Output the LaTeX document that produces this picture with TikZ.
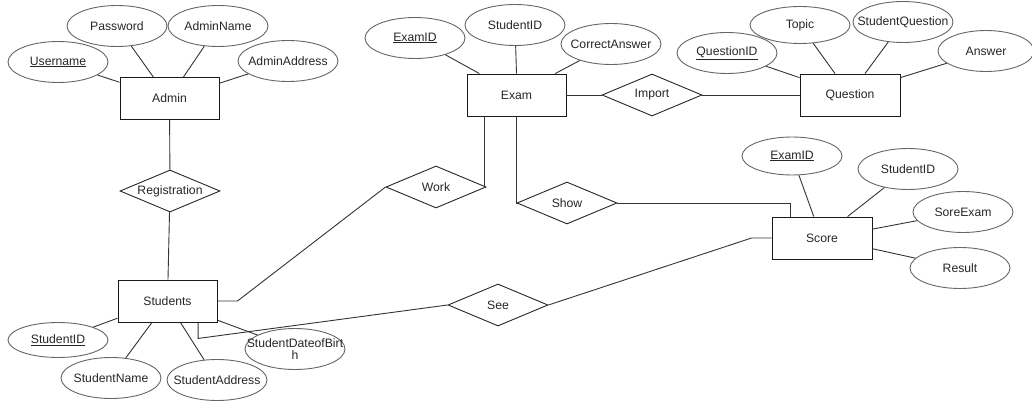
\documentclass[tikz,border=0pt]{standalone}
\usepackage{fontspec}
\setmainfont{Liberation Sans}
\usetikzlibrary{shapes.geometric}
\newcommand\ertext[1]{\makebox[0pt]{#1}}

\begin{document}
\begin{tikzpicture}[
    x=1pt, y=-1pt,
    font=\fontsize{12.2}{14}\selectfont,
    text=black!85,
    entity/.style={
      draw=black!90, line width=0.9pt, rectangle,
      minimum width=99, minimum height=42, inner sep=0
    },
    attr/.style={
      draw=black!60, line width=0.9pt, ellipse,
      minimum width=100, minimum height=41, inner sep=0
    },
    rel/.style={
      draw=black!85, line width=0.9pt, diamond,
      minimum width=100, minimum height=42, inner sep=0
    },
    link/.style={
      draw=black!80, line width=0.9pt
    }
  ]
    \useasboundingbox (0,0) rectangle (1032,403);

    \node[entity] (Admin) at (169.5,98.5) {Admin};
    \node[attr] (Username)     at (58,62)  { \ertext{\underline{Username}} };
    \node[attr] (Password)     at (117,26) { \ertext{Password} };
    \node[attr] (AdminName)    at (218,26) { \ertext{AdminName} };
    \node[attr] (AdminAddress) at (288,61) { \ertext{AdminAddress} };
    \node[rel]  (Registration) at (170,191) { \ertext{Registration} };

    \node[entity] (Students) at (167.5,301) {Students};
    \node[attr,minimum height=35] (StudentID) at (58,340) { \ertext{\underline{StudentID}} };
    \node[attr] (StudentName)    at (111,378) { \ertext{StudentName} };
    \node[attr] (StudentAddress) at (217,380) { \ertext{StudentAddress} };
    \node[attr] (StudentDOB)     at (295,349) { \ertext{\shortstack{StudentDateofBirt\\h}} };

    \node[entity] (Exam) at (516.5,95) {Exam};
    \node[attr] (ExExamID)      at (415,38) { \ertext{\underline{ExamID}} };
    \node[attr] (ExStudentID)   at (515,25) { \ertext{StudentID} };
    \node[attr] (CorrectAnswer) at (611,44) { \ertext{CorrectAnswer} };
    \node[rel]  (Import) at (652,95)  { \ertext{Import} };
    \node[rel]  (Work)   at (436,187) { \ertext{Work} };
    \node[rel]  (Show)   at (567,203) { \ertext{Show} };
    \node[rel]  (See)    at (498,305) { \ertext{See} };

    \node[entity,minimum width=100] (Question) at (850,95) {Question};
    \node[attr] (QuestionID)      at (727,53) { \ertext{\underline{QuestionID}} };
    \node[attr,minimum height=37] (Topic) at (800,25) { \ertext{Topic} };
    \node[attr] (StudentQuestion) at (903,22) { \ertext{StudentQuestion} };
    \node[attr,minimum width=96] (Answer) at (986,51) { \ertext{Answer} };

    \node[entity,minimum width=100] (Score) at (822,238) {Score};
    \node[attr,minimum height=38] (ScExamID) at (792,156) { \ertext{\underline{ExamID}} };
    \node[attr] (ScStudentID) at (908,169) { \ertext{StudentID} };
    \node[attr] (SoreExam)    at (963,212) { \ertext{SoreExam} };
    \node[attr] (Result)      at (960,268) { \ertext{Result} };

    \draw[link] (Username) -- (Admin.162);
    \draw[link] (Password) -- (Admin.127);
    \draw[link] (AdminName) -- (Admin.57);
    \draw[link] (AdminAddress) -- (Admin.17);
    \draw[link] (Admin) -- (Registration);
    \draw[link] (Registration) -- (Students);

    \draw[link] (StudentID) -- (Students.199);
    \draw[link] (StudentName) -- (Students.234);
    \draw[link] (StudentAddress) -- (Students.-59);
    \draw[link] (StudentDOB) -- (Students.-21);
    \draw[link] (Students.east) -- ++(20,0) -- (Work.west);
    \draw[link] (Students.-35) -- ++(0,16) -- (See.west);

    \draw[link] (ExExamID) -- (Exam.150);
    \draw[link] (ExStudentID) -- (Exam.north);
    \draw[link] (CorrectAnswer) -- (Exam.29);
    \draw[link] (Exam.east) -- (Import.west);
    \draw[link] (Import.east) -- (Question.west);
    \draw[link] (Exam.214) |- (Work.east);
    \draw[link] (Exam.south) |- (Show.west);
    \draw[link] (Show.east) -| (Score.146);
    \draw[link] (Score.west) -- ++(-20,0) -- (See.east);

    \draw[link] (QuestionID) -- (Question.161);
    \draw[link] (Topic) -- (Question.125);
    \draw[link] (StudentQuestion) -- (Question.55);
    \draw[link] (Answer) -- (Question.19);

    \draw[link] (ScExamID) -- (Score.111);
    \draw[link] (ScStudentID) -- (Score.40);
    \draw[link] (SoreExam) -- (Score.10);
    \draw[link] (Result) -- (Score.-12);
  \end{tikzpicture}
\end{document}
